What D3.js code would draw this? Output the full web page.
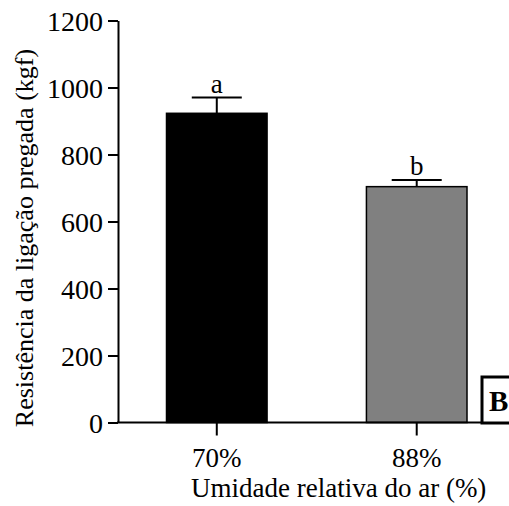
<!DOCTYPE html>
<meta charset="utf-8">
<head>
    <title>Resistencia</title>
    <script src="https://cdn.jsdelivr.net/npm/d3@7/dist/d3.min.js"></script>
</head>
<style>
    body { margin: 0; background: #fff; }
</style>
<svg></svg>
<script>
    var vWidth = 509;
    var vHeight = 506;
    var vFont = '"Liberation Serif", "Times New Roman", Times, serif';

    // data
    var vCategories = ["70%", "88%"];
    var vMeans = [923, 704];
    var vErrors = [47, 20];
    var vLetters = ["a", "b"];
    var vColors = ["#000000", "#808080"];
    var vTicks = [0, 200, 400, 600, 800, 1000, 1200];

    var svg = d3.select('svg').attr('width', vWidth).attr('height', vHeight)
        .style('font-family', vFont);

    var y = d3.scaleLinear().domain([0, 1200]).range([422.5, 20.5]);
    var x = d3.scaleBand().domain(vCategories).range([166.5, 467]).paddingInner(0.497).paddingOuter(0);

    // y axis
    var yAxis = d3.axisLeft(y).tickValues(vTicks).tickFormat(d3.format('d'))
        .tickSize(10).tickPadding(5).tickSizeOuter(0);
    var gy = svg.append('g').attr('transform', 'translate(118,0)').call(yAxis);
    gy.select('.domain').attr('stroke-width', 2);
    gy.selectAll('.tick line').attr('stroke-width', 2);
    gy.selectAll('.tick text').style('font-family', vFont).style('font-size', '28px').attr('dy', '0.34em');

    // bars
    svg.append('g').selectAll('rect').data(vCategories).enter().append('rect')
        .attr('x', function (d) { return x(d); })
        .attr('y', function (d, i) { return y(vMeans[i]); })
        .attr('width', x.bandwidth())
        .attr('height', function (d, i) { return y(0) - y(vMeans[i]); })
        .attr('fill', function (d, i) { return vColors[i]; })
        .attr('stroke', '#000')
        .attr('stroke-width', 1.5);

    // error bars
    var eb = svg.append('g').attr('stroke', '#000').attr('stroke-width', 2);
    vCategories.forEach(function (c, i) {
        var cx = x(c) + x.bandwidth() / 2;
        var top = y(vMeans[i] + vErrors[i]);
        eb.append('line').attr('x1', cx).attr('x2', cx).attr('y1', y(vMeans[i])).attr('y2', top);
        eb.append('line').attr('x1', cx - 25).attr('x2', cx + 25).attr('y1', top).attr('y2', top);
        svg.append('text').attr('x', cx).attr('y', top - 5)
            .attr('text-anchor', 'middle').style('font-family', vFont).style('font-size', '27px').text(vLetters[i]);
    });

    // x axis
    var xAxis = d3.axisBottom(x).tickSize(13).tickPadding(12).tickSizeOuter(0);
    var gx = svg.append('g').attr('transform', 'translate(0,422.5)').call(xAxis);
    gx.select('.domain').remove();
    gx.selectAll('.tick line').attr('stroke-width', 2);
    gx.selectAll('.tick text').style('font-family', vFont).style('font-size', '27px');
    svg.append('line').attr('x1', 117).attr('x2', 482).attr('y1', 422.5).attr('y2', 422.5)
        .attr('stroke', '#000').attr('stroke-width', 2);

    // titles
    svg.append('text').attr('x', 191).attr('y', 497).style('font-family', vFont).style('font-size', '27px')
        .text('Umidade relativa do ar (%)');
    svg.append('text').attr('transform', 'translate(33,238) rotate(-90)')
        .attr('text-anchor', 'middle').style('font-family', vFont).style('font-size', '26px')
        .text('Resistência da ligação pregada (kgf)');

    // panel label
    svg.append('rect').attr('x', 482).attr('y', 377).attr('width', 40).attr('height', 46)
        .attr('fill', '#fff').attr('stroke', '#000').attr('stroke-width', 3);
    svg.append('text').attr('x', 489).attr('y', 411).style('font-family', vFont).style('font-size', '29px')
        .style('font-weight', 'bold').text('B');
</script>
